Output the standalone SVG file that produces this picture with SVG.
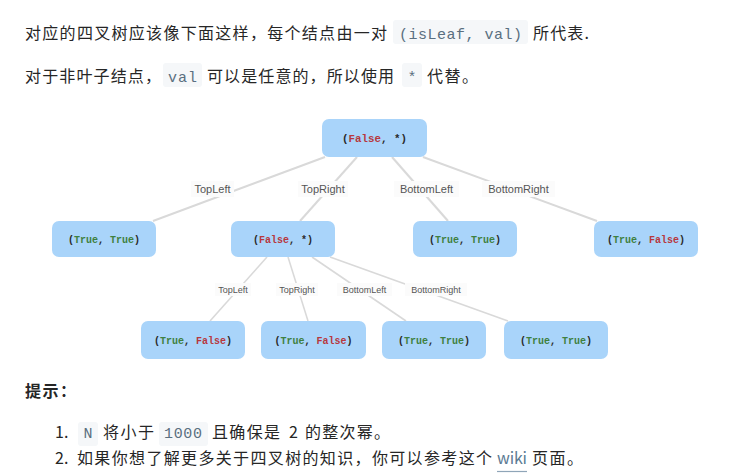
<svg xmlns="http://www.w3.org/2000/svg" width="751" height="473" viewBox="0 0 751 473">
<style>
.body{font-family:"Noto Sans CJK SC","Noto Sans",sans-serif;font-size:16px;fill:#262626}
.bold{font-weight:bold}
.code{font-family:"Liberation Mono","DejaVu Sans Mono",monospace;font-size:15px;fill:#5a6f80}
.cbg{fill:#f5f7f9}
.node rect{fill:#a9d4fa}
.nt{font-family:"Liberation Mono","DejaVu Sans Mono",monospace;font-size:10px;font-weight:bold;fill:#2a2a2a;text-anchor:middle}
.f{fill:#b7383e}
.t{fill:#3f8040}
.edge{stroke:#d9d9d9;stroke-width:2;fill:none}
.edge2{stroke:#d9d9d9;stroke-width:1.6;fill:none}
.lb{font-family:"Liberation Sans",Arial,sans-serif;font-size:11px;fill:#555;text-anchor:middle}
.lb2{font-family:"Liberation Sans",Arial,sans-serif;font-size:9px;fill:#555;text-anchor:middle}
.lbg{fill:#fbfbfb}
</style>
<rect width="751" height="473" fill="#ffffff"/>

<g id="intro">
<text class="body" x="25" y="39" textLength="362" lengthAdjust="spacing">对应的四叉树应该像下面这样，每个结点由一对</text>
<rect class="cbg" x="393" y="20" width="135" height="24" rx="3"/>
<text class="code" x="399" y="39" textLength="123" lengthAdjust="spacing">(isLeaf, val)</text>
<text class="body" x="533" y="39" textLength="56" lengthAdjust="spacing">所代表.</text>

<text class="body" x="25" y="82" textLength="136" lengthAdjust="spacing">对于非叶子结点，</text>
<rect class="cbg" x="163" y="63" width="39" height="24" rx="3"/>
<text class="code" x="168" y="82" textLength="29" lengthAdjust="spacing">val</text>
<text class="body" x="207" y="82" textLength="187" lengthAdjust="spacing">可以是任意的，所以使用</text>
<rect class="cbg" x="402" y="63" width="20" height="24" rx="3"/>
<text class="code" x="412" y="82" text-anchor="middle">*</text>
<text class="body" x="427" y="82" textLength="51" lengthAdjust="spacing">代替。</text>
</g>

<g id="connectors">
<line class="edge" x1="325" y1="157" x2="153" y2="221"/>
<line class="edge" x1="357" y1="157" x2="300" y2="221"/>
<line class="edge" x1="392" y1="157" x2="448" y2="221"/>
<line class="edge" x1="423" y1="157" x2="597" y2="221"/>
<line class="edge2" x1="267" y1="257" x2="210" y2="321"/>
<line class="edge2" x1="288" y1="257" x2="308" y2="321"/>
<line class="edge2" x1="312" y1="257" x2="406" y2="321"/>
<line class="edge2" x1="330" y1="257" x2="508" y2="321"/>
<rect class="lbg" x="191" y="181" width="43" height="16"/>
<text class="lb" x="212.5" y="193">TopLeft</text>
<rect class="lbg" x="298" y="181" width="50" height="16"/>
<text class="lb" x="323" y="193">TopRight</text>
<rect class="lbg" x="394" y="181" width="65" height="16"/>
<text class="lb" x="426.5" y="193">BottomLeft</text>
<rect class="lbg" x="482" y="181" width="73" height="16"/>
<text class="lb" x="518.5" y="193">BottomRight</text>
<rect class="lbg" x="215" y="283" width="36" height="13"/>
<text class="lb2" x="233" y="293">TopLeft</text>
<rect class="lbg" x="276" y="283" width="42" height="13"/>
<text class="lb2" x="297" y="293">TopRight</text>
<rect class="lbg" x="337" y="283" width="55" height="13"/>
<text class="lb2" x="364.5" y="293">BottomLeft</text>
<rect class="lbg" x="405" y="283" width="62" height="13"/>
<text class="lb2" x="436" y="293">BottomRight</text>
</g>

<g id="root" class="node">
<rect x="322" y="119" width="105" height="38" rx="7"/>
<text class="nt" x="374.5" y="142" style="font-size:10.8px">(<tspan class="f">False</tspan>, *)</text>
</g>
<g id="n1" class="node">
<rect x="52" y="221" width="104" height="36" rx="7"/>
<text class="nt" x="104" y="242.5">(<tspan class="t">True</tspan>, <tspan class="t">True</tspan>)</text>
</g>
<g id="n2" class="node">
<rect x="231" y="221" width="104" height="36" rx="7"/>
<text class="nt" x="283" y="242.5">(<tspan class="f">False</tspan>, *)</text>
</g>
<g id="n3" class="node">
<rect x="413" y="221" width="104" height="36" rx="7"/>
<text class="nt" x="465" y="242.5">(<tspan class="t">True</tspan>, <tspan class="t">True</tspan>)</text>
</g>
<g id="n4" class="node">
<rect x="594" y="221" width="104" height="36" rx="7"/>
<text class="nt" x="646" y="242.5">(<tspan class="t">True</tspan>, <tspan class="f">False</tspan>)</text>
</g>
<g id="n5" class="node">
<rect x="141" y="321" width="104" height="38" rx="7"/>
<text class="nt" x="193" y="343.5">(<tspan class="t">True</tspan>, <tspan class="f">False</tspan>)</text>
</g>
<g id="n6" class="node">
<rect x="261" y="321" width="105" height="38" rx="7"/>
<text class="nt" x="313.5" y="343.5">(<tspan class="t">True</tspan>, <tspan class="f">False</tspan>)</text>
</g>
<g id="n7" class="node">
<rect x="382" y="321" width="104" height="38" rx="7"/>
<text class="nt" x="434" y="343.5">(<tspan class="t">True</tspan>, <tspan class="t">True</tspan>)</text>
</g>
<g id="n8" class="node">
<rect x="504" y="321" width="104" height="38" rx="7"/>
<text class="nt" x="556" y="343.5">(<tspan class="t">True</tspan>, <tspan class="t">True</tspan>)</text>
</g>

<g id="hints">
<text class="body bold" x="25" y="397" textLength="51" lengthAdjust="spacing">提示：</text>
<text class="body" x="55" y="438">1.</text>
<rect class="cbg" x="78" y="422" width="20" height="24" rx="3"/>
<text class="code" x="88" y="438" text-anchor="middle">N</text>
<text class="body" x="103" y="438" textLength="51" lengthAdjust="spacing">将小于</text>
<rect class="cbg" x="159" y="422" width="49" height="24" rx="3"/>
<text class="code" x="164" y="438" textLength="38" lengthAdjust="spacing">1000</text>
<text class="body" x="212" y="438" textLength="68" lengthAdjust="spacing">且确保是</text>
<text class="body" x="289" y="438">2</text>
<text class="body" x="305" y="438" textLength="85" lengthAdjust="spacing">的整次幂。</text>
<text class="body" x="55" y="464">2.</text>
<text class="body" x="77" y="464" textLength="415" lengthAdjust="spacing">如果你想了解更多关于四叉树的知识，你可以参考这个</text>
<text class="body" x="497" y="464" textLength="30" lengthAdjust="spacing" style="fill:#5b7a93">wiki</text>
<line x1="497" y1="471.5" x2="527" y2="471.5" stroke="#8fa5b8" stroke-width="1.2"/>
<text class="body" x="532" y="464" textLength="51" lengthAdjust="spacing">页面。</text>
</g>
</svg>
